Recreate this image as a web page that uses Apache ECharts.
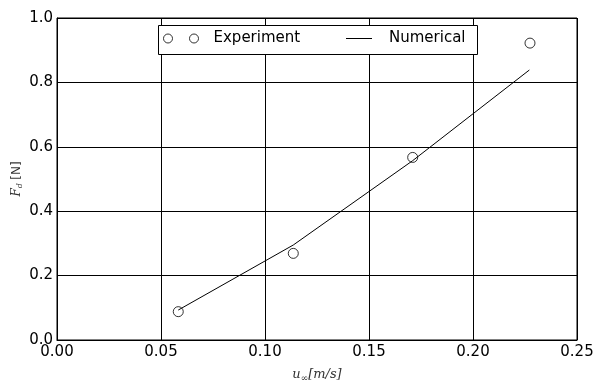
<!DOCTYPE html>
<html>
<head>
<meta charset="utf-8">
<script src="https://cdn.jsdelivr.net/npm/echarts@6/dist/echarts.min.js"></script>
<style>
	html, body { margin: 0; padding: 0; background: #fff; }
	#main { width: 600px; height: 385px; }
</style>
</head>
<body>
<div id="main"></div>
<script>
// velocities u [m/s] and drag force [N]
var uExp = [0.0583, 0.1136, 0.171, 0.2274];
var fExp = [0.088, 0.269, 0.567, 0.922];
var uNum = [0.0583, 0.1136, 0.171, 0.2271];
var fNum = [0.093, 0.295, 0.557, 0.8385];
var xTicks = [0, 0.05, 0.1, 0.15, 0.2, 0.25];
var yTicks = [0, 0.2, 0.4, 0.6, 0.8, 1.0];

var chart = echarts.init(document.getElementById('main'));

var expData = uExp.map(function (u, i) { return [u, fExp[i]]; });
var numData = uNum.map(function (u, i) { return [u, fNum[i]]; });

// two hollow circles, like matplotlib numpoints=2
var twoCircles = 'path://M0,4.5A4.5,4.5,0,1,0,9,4.5A4.5,4.5,0,1,0,0,4.5ZM26,4.5A4.5,4.5,0,1,0,35,4.5A4.5,4.5,0,1,0,26,4.5Z';

var font = 'DejaVu Sans';

var option = {
	animation: false,
	backgroundColor: '#fff',
	grid: {
		left: 57,
		right: 23,
		top: 18,
		bottom: 45,
		outerBoundsMode: 'none',
		show: true,
		borderColor: '#000',
		borderWidth: 1,
		backgroundColor: 'transparent'
	},
	graphic: [{
		type: 'rect',
		left: 158,
		top: 25,
		z: 3,
		shape: { width: 319, height: 29 },
		style: { fill: '#fff', stroke: '#000', lineWidth: 1 }
	}],
	legend: [
		{
			data: [{ name: 'Experiment', icon: twoCircles }],
			left: 158,
			top: 27,
			padding: [4, 5],
			itemWidth: 35,
			itemHeight: 9,
			z: 5,
			itemStyle: { borderWidth: 1, borderColor: '#000', color: 'rgba(255,255,255,0)' },
			textStyle: { fontFamily: font, fontSize: 15, color: '#000', padding: [0, 0, 0, 10] }
		},
		{
			data: [{ name: 'Numerical', icon: 'rect' }],
			left: 341,
			top: 27,
			padding: [4, 5],
			itemWidth: 26,
			itemHeight: 1,
			z: 5,
			itemStyle: { color: '#000', borderWidth: 0 },
			textStyle: { fontFamily: font, fontSize: 15, color: '#000', padding: [0, 0, 0, 12] }
		}
	],
	xAxis: {
		type: 'value',
		min: 0,
		max: 0.25,
		interval: 0.05,
		name: '{i|u}{s|∞}{t|[m/s]}',
		nameLocation: 'middle',
		nameGap: 27,
		nameMoveOverlap: false,
		nameTextStyle: {
			rich: {
				i: { fontFamily: 'DejaVu Serif', fontStyle: 'italic', fontSize: 13, color: '#333' },
				s: { fontFamily: 'DejaVu Serif', fontSize: 9, color: '#333', padding: [7, 0, 0, 0] },
				t: { fontFamily: 'DejaVu Serif', fontStyle: 'italic', fontSize: 13, color: '#333' }
			}
		},
		axisLine: { show: true, lineStyle: { color: '#000', width: 1 } },
		axisTick: { show: false },
		splitLine: { show: true, lineStyle: { color: '#000', width: 1 } },
		axisLabel: {
			fontFamily: font,
			fontSize: 15,
			color: '#000',
			margin: 5,
			formatter: function (v) { return v.toFixed(2); }
		}
	},
	yAxis: {
		type: 'value',
		min: 0,
		max: 1.0,
		interval: 0.2,
		name: '{i|F}{s|d} {t|[N]}',
		nameLocation: 'middle',
		nameGap: 33,
		nameRotate: 90,
		nameMoveOverlap: false,
		nameTextStyle: {
			rich: {
				i: { fontFamily: 'DejaVu Serif', fontStyle: 'italic', fontSize: 12, color: '#333' },
				s: { fontFamily: 'DejaVu Serif', fontStyle: 'italic', fontSize: 8, color: '#333', padding: [6, 0, 0, 0] },
				t: { fontFamily: font, fontSize: 12, color: '#333' }
			}
		},
		axisLine: { show: true, lineStyle: { color: '#000', width: 1 } },
		axisTick: { show: false },
		splitLine: { show: true, lineStyle: { color: '#000', width: 1 } },
		axisLabel: {
			fontFamily: font,
			fontSize: 15,
			color: '#000',
			margin: 4,
			formatter: function (v) { return v.toFixed(1); }
		}
	},
	series: [
		{
			name: 'Experiment',
			type: 'scatter',
			data: expData,
			symbol: 'circle',
			symbolSize: 10,
			itemStyle: { color: 'rgba(255,255,255,0)', borderColor: '#000', borderWidth: 1 },
			z: 3
		},
		{
			name: 'Numerical',
			type: 'line',
			data: numData,
			symbol: 'none',
			lineStyle: { color: '#000', width: 1 },
			itemStyle: { color: '#000' },
			z: 2
		}
	]
};

chart.setOption(option);
window.addEventListener('resize', function () { chart.resize(); }, false);
</script>
</body>
</html>
